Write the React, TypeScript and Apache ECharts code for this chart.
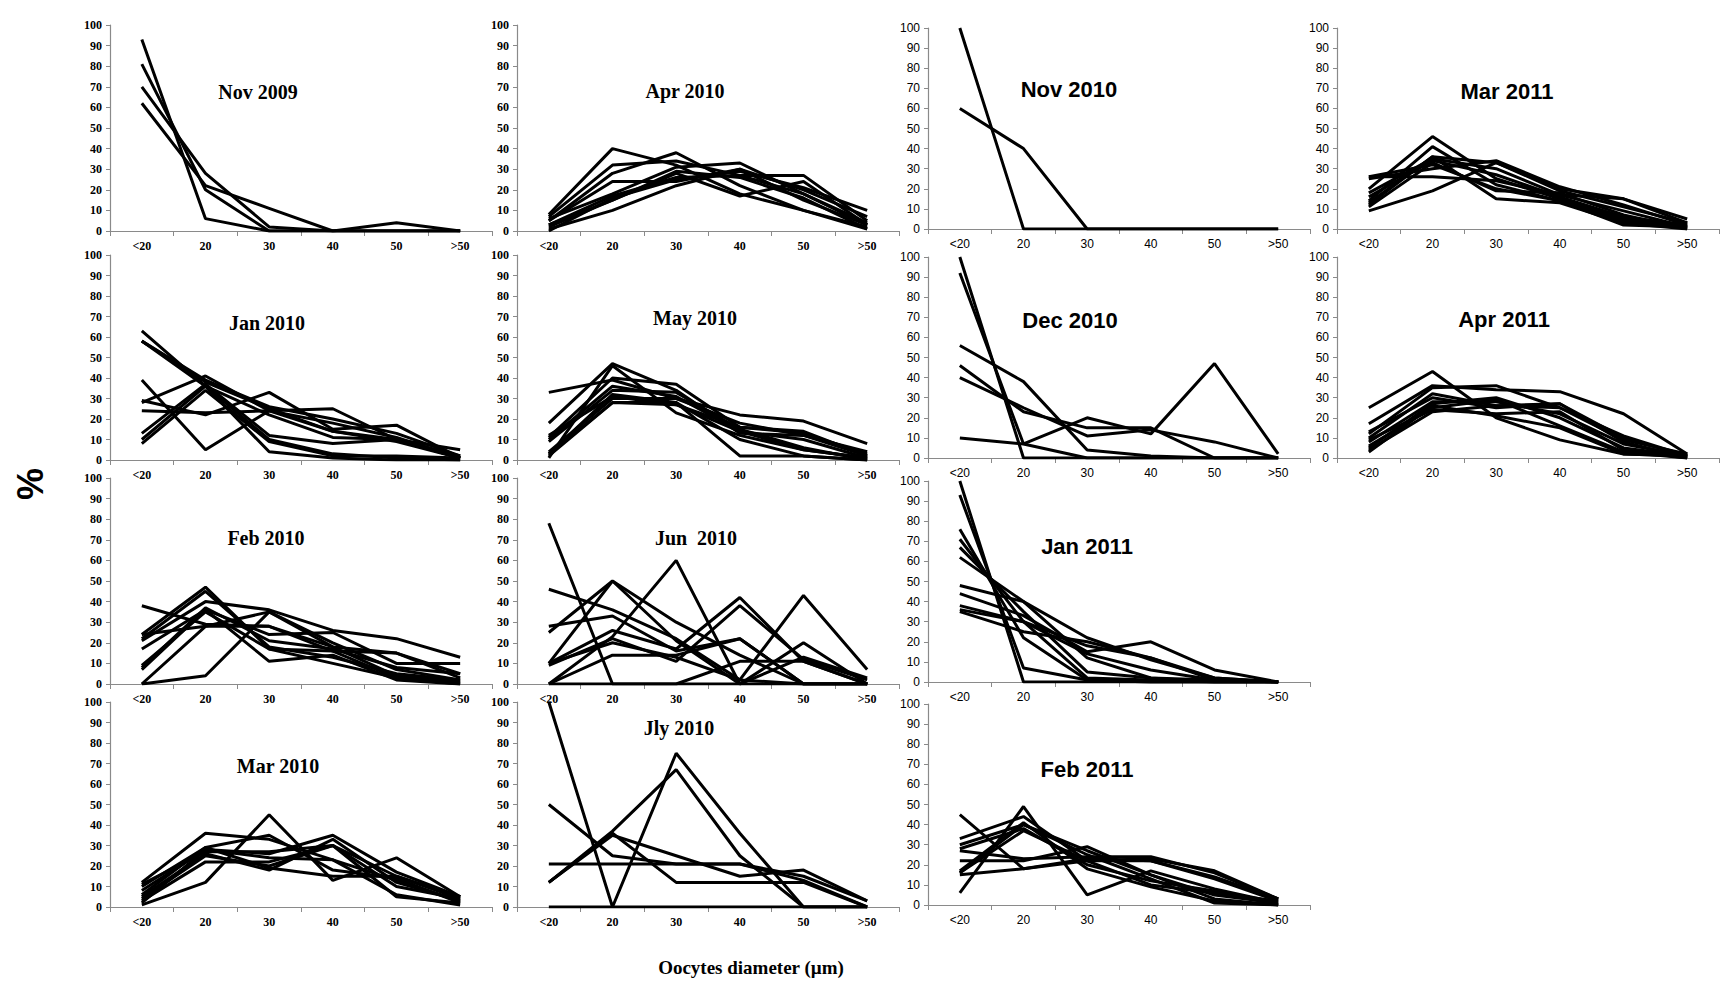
import React, { useEffect, useRef } from "react";
import * as echarts from "echarts";

const categories = ["<20", "20", "30", "40", "50", ">50"];
const yMin = 0;
const yMax = 100;
const yStep = 10;

const nov2009 = [
  [93, 6, 0, 0, 0, 0],
  [81, 20, 0, 0, 0, 0],
  [70, 28, 2, 0, 0, 0],
  [62, 22, 11, 0, 4, 0],
];
const jan2010 = [
  [63, 36, 4, 1, 0, 0],
  [58, 38, 25, 14, 9, 1],
  [58, 36, 22, 11, 10, 2],
  [39, 5, 24, 18, 11, 1],
  [28, 41, 24, 25, 10, 1],
  [24, 23, 24, 14, 10, 1],
  [13, 37, 12, 8, 10, 5],
  [10, 36, 10, 3, 1, 0],
  [8, 34, 9, 2, 2, 1],
  [29, 22, 33, 15, 17, 1],
  [58, 39, 26, 20, 13, 2],
];
const feb2010 = [
  [38, 29, 28, 18, 15, 5],
  [24, 47, 17, 16, 3, 1],
  [22, 45, 18, 13, 5, 2],
  [21, 40, 36, 26, 22, 13],
  [17, 36, 24, 25, 10, 10],
  [8, 37, 21, 17, 8, 5],
  [7, 36, 11, 14, 2, 0],
  [0, 4, 35, 20, 7, 2],
  [0, 28, 35, 18, 4, 1],
  [24, 28, 28, 16, 15, 3],
  [9, 35, 17, 10, 3, 0],
];
const mar2010 = [
  [1, 12, 45, 13, 24, 5],
  [12, 36, 33, 23, 13, 3],
  [10, 29, 35, 18, 14, 2],
  [8, 28, 26, 35, 17, 5],
  [5, 26, 18, 33, 12, 3],
  [4, 25, 20, 30, 10, 4],
  [3, 22, 22, 30, 5, 2],
  [2, 28, 24, 23, 6, 1],
  [11, 27, 27, 30, 15, 4],
  [6, 29, 19, 15, 15, 5],
];
const apr2010 = [
  [8, 40, 32, 18, 10, 2],
  [7, 32, 34, 27, 18, 3],
  [5, 28, 38, 22, 10, 1],
  [3, 17, 26, 27, 27, 5],
  [2, 15, 28, 17, 24, 3],
  [1, 10, 22, 30, 20, 7],
  [6, 18, 31, 33, 18, 4],
  [3, 15, 29, 26, 16, 1],
  [5, 24, 24, 30, 15, 3],
  [0, 16, 25, 29, 21, 10],
];
const may2010 = [
  [33, 39, 30, 22, 19, 8],
  [18, 47, 34, 13, 12, 2],
  [11, 40, 37, 16, 13, 3],
  [10, 36, 31, 14, 10, 1],
  [9, 34, 33, 15, 6, 0],
  [3, 32, 28, 10, 2, 0],
  [2, 28, 28, 2, 2, 0],
  [4, 30, 30, 18, 12, 4],
  [1, 46, 23, 12, 5, 1],
  [12, 31, 27, 16, 14, 2],
  [3, 28, 27, 14, 5, 1],
];
const jun2010 = [
  [78, 0, 0, 0, 0, 0],
  [46, 36, 22, 2, 0, 0],
  [28, 33, 16, 22, 0, 0],
  [25, 50, 30, 14, 0, 0],
  [10, 50, 21, 0, 13, 3],
  [10, 26, 17, 42, 11, 0],
  [9, 22, 11, 38, 12, 2],
  [0, 14, 14, 22, 0, 0],
  [0, 23, 60, 0, 20, 0],
  [0, 0, 0, 11, 11, 0],
  [10, 20, 13, 2, 43, 7],
];
const jly2010 = [
  [100, 0, 75, 36, 0, 0],
  [12, 37, 67, 25, 0, 0],
  [50, 25, 21, 21, 13, 0],
  [21, 21, 21, 21, 15, 3],
  [12, 35, 25, 15, 18, 3],
  [0, 0, 0, 0, 0, 0],
  [12, 36, 12, 12, 12, 0],
];
const nov2010 = [
  [100, 0, 0, 0, 0, 0],
  [60, 40, 0, 0, 0, 0],
];
const dec2010 = [
  [100, 0, 0, 0, 0, 0],
  [92, 7, 20, 12, 47, 2],
  [56, 38, 4, 1, 0, 0],
  [46, 23, 15, 15, 0, 0],
  [40, 25, 11, 14, 8, 0],
  [10, 7, 0, 0, 0, 0],
];
const jan2011 = [
  [100, 0, 0, 0, 0, 0],
  [93, 7, 1, 0, 0, 0],
  [76, 22, 1, 0, 0, 0],
  [71, 30, 2, 1, 0, 0],
  [67, 35, 5, 2, 0, 0],
  [62, 40, 12, 2, 1, 0],
  [48, 40, 22, 11, 2, 0],
  [44, 33, 15, 20, 6, 0],
  [38, 30, 18, 12, 2, 0],
  [36, 30, 14, 6, 1, 0],
  [35, 25, 20, 12, 1, 0],
];
const feb2011 = [
  [45, 18, 22, 23, 17, 3],
  [6, 49, 5, 17, 8, 1],
  [33, 44, 22, 22, 14, 3],
  [30, 40, 27, 15, 5, 1],
  [28, 38, 20, 12, 7, 0],
  [27, 23, 24, 24, 16, 3],
  [22, 22, 29, 15, 3, 0],
  [17, 41, 18, 9, 2, 0],
  [16, 37, 22, 10, 6, 2],
  [15, 18, 23, 22, 13, 2],
  [16, 40, 25, 13, 1, 0],
];
const mar2011 = [
  [9, 19, 33, 20, 15, 5],
  [26, 26, 24, 17, 9, 1],
  [25, 30, 34, 21, 12, 2],
  [20, 46, 25, 15, 5, 1],
  [14, 41, 22, 14, 4, 1],
  [12, 36, 15, 13, 3, 0],
  [18, 35, 30, 17, 15, 3],
  [11, 33, 19, 18, 7, 0],
  [16, 34, 27, 16, 6, 2],
  [26, 32, 20, 14, 2, 1],
  [13, 36, 33, 19, 11, 3],
];
const apr2011 = [
  [25, 43, 20, 9, 2, 1],
  [17, 36, 34, 33, 22, 2],
  [12, 35, 36, 25, 11, 1],
  [10, 32, 26, 27, 8, 0],
  [8, 28, 28, 22, 7, 1],
  [6, 25, 29, 16, 3, 0],
  [4, 23, 26, 25, 9, 2],
  [13, 30, 25, 27, 10, 1],
  [5, 27, 30, 20, 5, 1],
  [9, 24, 22, 23, 4, 0],
  [3, 26, 21, 15, 2, 1],
];

const panelNames = [
  "Nov 2009", "Jan 2010", "Feb 2010", "Mar 2010",
  "Apr 2010", "May 2010", "Jun  2010", "Jly 2010",
  "Nov 2010", "Dec 2010", "Jan 2011", "Feb 2011",
  "Mar 2011", "Apr 2011",
];
const panelData = [
  nov2009, jan2010, feb2010, mar2010,
  apr2010, may2010, jun2010, jly2010,
  nov2010, dec2010, jan2011, feb2011,
  mar2011, apr2011,
];

const yAxisTitle = "%";
const xAxisTitle = "Oocytes diameter (µm)";

// layout (pixels)
const colLeft = [110, 517, 928, 1337];
const plotWidth = 382;
const rowsSerif = [[25, 231], [255, 460], [478, 684], [702, 907]];
const rowsSans = [[28, 229], [257, 458], [481, 682], [704, 905]];
const panelPos: [number, number][] = [
  [0, 0], [0, 1], [0, 2], [0, 3],
  [1, 0], [1, 1], [1, 2], [1, 3],
  [2, 0], [2, 1], [2, 2], [2, 3],
  [3, 0], [3, 1],
];
const titlePos: [number, number][] = [
  [258, 92], [267, 323], [266, 538], [278, 766],
  [685, 91], [695, 318], [696, 538], [679, 728],
  [1069, 89], [1070, 320], [1087, 546], [1087, 769],
  [1507, 91], [1504, 319],
];

const SERIF = "'Liberation Serif', 'Times New Roman', serif";
const SANS = "'Liberation Sans Narrow', 'Liberation Sans', Arial, sans-serif";

function buildOption() {
  const grid: any[] = [];
  const xAxis: any[] = [];
  const yAxis: any[] = [];
  const series: any[] = [];
  const graphic: any[] = [];

  panelData.forEach((lines, i) => {
    const [c, r] = panelPos[i];
    const serif = c < 2;
    const rows = serif ? rowsSerif : rowsSans;
    const [top, bottom] = rows[r];
    grid.push({ left: colLeft[c], top, width: plotWidth, height: bottom - top, containLabel: false });
    const labelStyle = serif
      ? { fontFamily: SERIF, fontWeight: "bold", fontSize: 12, color: "#000" }
      : { fontFamily: SANS, fontWeight: "normal", fontSize: 12, color: "#000" };
    xAxis.push({
      type: "category",
      gridIndex: i,
      data: categories,
      boundaryGap: true,
      axisLine: { lineStyle: { color: "#8a8a8a", width: 1.2 } },
      axisTick: { show: true, length: 5, inside: false, alignWithLabel: false, lineStyle: { color: "#8a8a8a" } },
      axisLabel: { ...labelStyle, margin: 9, interval: 0 },
      splitLine: { show: false },
    });
    yAxis.push({
      type: "value",
      gridIndex: i,
      min: yMin,
      max: yMax,
      interval: yStep,
      axisLine: { show: true, lineStyle: { color: "#8a8a8a", width: 1.2 } },
      axisTick: { show: true, length: 4, lineStyle: { color: "#8a8a8a" } },
      axisLabel: { ...labelStyle, margin: 8 },
      splitLine: { show: false },
    });
    lines.forEach((vals, k) => {
      series.push({
        type: "line",
        name: panelNames[i] + " " + (k + 1),
        xAxisIndex: i,
        yAxisIndex: i,
        data: vals,
        symbol: "none",
        lineStyle: { color: "#000", width: 3 },
        z: 3,
      });
    });
    graphic.push({
      type: "text",
      x: titlePos[i][0],
      y: titlePos[i][1],
      style: {
        text: panelNames[i],
        fill: "#000",
        font: serif ? `bold 20px ${SERIF}` : `bold 22px ${SANS}`,
        textAlign: "center",
        textVerticalAlign: "middle",
      },
      z: 10,
    });
  });

  graphic.push({
    type: "text",
    x: 30,
    y: 484,
    rotation: Math.PI / 2,
    style: {
      text: yAxisTitle,
      fill: "#000",
      font: "bold 36px 'Liberation Sans', Arial, sans-serif",
      textAlign: "center",
      textVerticalAlign: "middle",
    },
  });
  graphic.push({
    type: "text",
    x: 751,
    y: 967,
    style: {
      text: xAxisTitle,
      fill: "#000",
      font: `bold 19px ${SERIF}`,
      textAlign: "center",
      textVerticalAlign: "middle",
    },
  });

  return {
    animation: false,
    backgroundColor: "#fff",
    grid,
    xAxis,
    yAxis,
    series,
    graphic,
  };
}

export default function App() {
  const ref = useRef<HTMLDivElement>(null);
  useEffect(() => {
    if (!ref.current) return;
    const chart = echarts.init(ref.current, undefined, { renderer: "svg" });
    chart.setOption(buildOption());
    return () => chart.dispose();
  }, []);
  return (
    <div
      ref={ref}
      style={{ position: "fixed", left: 0, top: 0, width: 1732, height: 985, background: "#fff" }}
    />
  );
}
